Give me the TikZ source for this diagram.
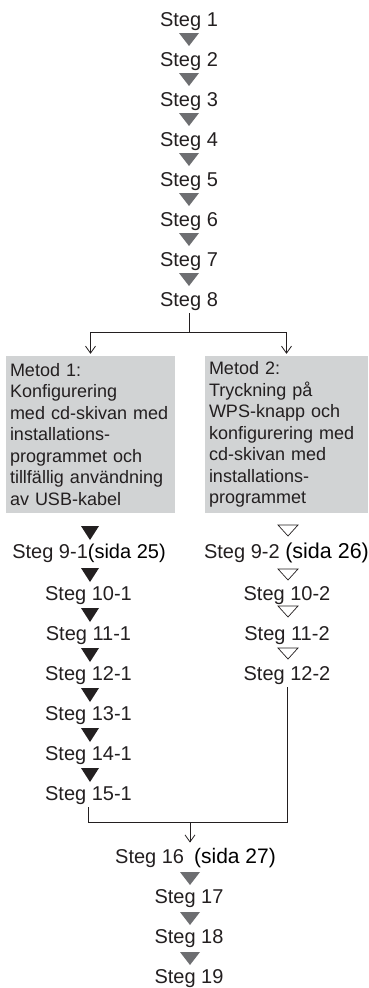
\documentclass[tikz,border=0pt]{standalone}
\usepackage{fontspec}
\setmainfont{Liberation Sans}
\usetikzlibrary{arrows.meta}
\definecolor{ink}{HTML}{231F20}
\definecolor{tgray}{HTML}{6D6E71}
\definecolor{boxgray}{HTML}{D1D3D4}
\tikzset{
  stepnode/.style={anchor=base, inner sep=3pt, text=ink, font=\fontsize{20}{24}\selectfont},
  metod/.style={fill=boxgray, text=ink, align=left, minimum height=157pt, inner ysep=0pt, font=\fontsize{18}{21.5}\selectfont},
  grayv/.pic={\fill[tgray] (-10,0) -- (10,0) -- (0,-13) -- cycle;},
  blackv/.pic={\fill[ink] (-9,0) -- (9,0) -- (0,-14) -- cycle;},
  openv/.pic={\draw[ink, line width=0.7pt, line join=miter] (-10,0) -- (10,0) -- (0,-11) -- cycle;},
  conn/.style={ink, line width=0.8pt},
  arr/.style={conn, shorten >=2pt, -{Straight Barb[length=7pt,width=10pt]}}
}
\begin{document}
\begin{tikzpicture}[x=1pt,y=1pt]
\useasboundingbox (0,0) rectangle (369,-988);

   \foreach \n [count=\i from 0] in {1,...,8}
      \node[stepnode] (s\n) at (189,{-26-40*\i}) {Steg \n};
   \foreach \y in {33,73,...,273}
      \pic at (189,-\y) {grayv};

   \coordinate (split) at (189,-332);
   \draw[conn] (s8) -- (split);

   \node[metod, text width=161pt, inner xsep=4pt] (m1) at (90.5,-434.5)
      {Metod 1:\\Konfigurering\\med cd-skivan med\\installations-\\programmet och\\tillfällig användning\\av USB-kabel};
   \node[metod, text width=155pt, inner xsep=4pt] (m2) at (286.5,-434.5)
      {Metod 2:\\Tryckning på\\WPS-knapp och\\konfigurering med\\cd-skivan med\\installations-\\programmet};

   \draw[arr] (split) -| (m1);
   \draw[arr] (split) -| (m2);

   \node[stepnode] (l9) at (89,-558) {Steg 9-1\textcolor{black}{(sida 25)}};
   \foreach \n [count=\i] in {10,...,15}
      \node[stepnode] (l\n) at (88.5,{-560-40*\i}) {Steg \n-1};
   \foreach \y in {526,568,608,648,688,728,768}
      \pic at (90,-\y) {blackv};

   \node[stepnode] (r9) at (286.5,-558) {Steg 9-2 \textcolor{black}{\fontsize{21.5}{24}\selectfont(sida 26)}};
   \node[stepnode] (r10) at (287,-600) {Steg 10-2};
   \node[stepnode] (r11) at (287,-640) {Steg 11-2};
   \node[stepnode] (r12) at (287,-680) {Steg 12-2};
   \foreach \y in {525,569,606,648}
      \pic at (288,-\y) {openv};

   \coordinate (join) at (190,-822);
   \draw[conn] (l15) |- (join) -| (r12);

   \node[stepnode] (s16) at (195.5,-863) {Steg 16\hspace{10pt}\textcolor{black}{\fontsize{21}{24}\selectfont(sida 27)}};
   \draw[arr] (join) -- (join |- s16.north);
   \foreach \n [count=\i] in {17,18,19}
      \node[stepnode] (s\n) at (189,{-863-40*\i}) {Steg \n};
   \foreach \y in {872,912,952}
      \pic at (190,-\y) {grayv};

\end{tikzpicture}
\end{document}
